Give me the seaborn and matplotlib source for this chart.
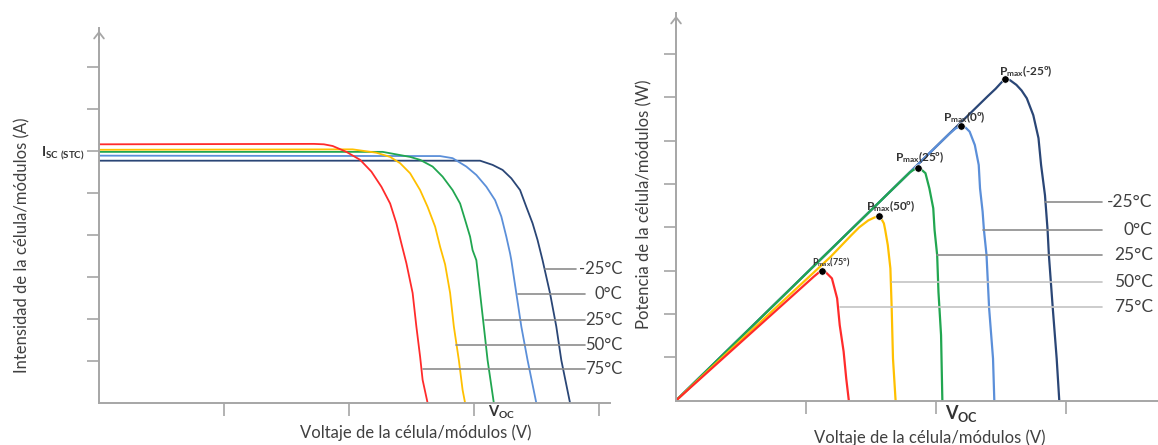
import pandas as pd
import seaborn as sns
import matplotlib.pyplot as plt

# temperaturas y colores
temps = ['-25°C', '0°C', '25°C', '50°C', '75°C']
colors = ['#2a4676', '#5b8fd9', '#21a650', '#ffc000', '#ff2b2b']

# curvas I-V
iv_v_m25 = [0, 3.05, 3.15, 3.23, 3.30, 3.37, 3.42, 3.47, 3.51, 3.55, 3.61, 3.66, 3.70, 3.77]
iv_i_m25 = [5.77, 5.77, 5.67, 5.55, 5.35, 5.07, 4.67, 4.28, 3.88, 3.40, 2.61, 1.82, 1.02, 0.0]
iv_v_0 = [0, 2.73, 2.83, 2.94, 3.02, 3.10, 3.17, 3.22, 3.26, 3.29, 3.30, 3.34, 3.38, 3.43, 3.50]
iv_i_0 = [5.89, 5.88, 5.83, 5.63, 5.43, 5.15, 4.83, 4.44, 3.96, 3.56, 3.40, 2.61, 1.82, 1.02, 0.0]
iv_v_25 = [0, 2.27, 2.49, 2.57, 2.67, 2.75, 2.83, 2.89, 2.93, 2.97, 2.99, 3.02, 3.05, 3.08, 3.11, 3.16]
iv_i_25 = [5.98, 5.98, 5.86, 5.79, 5.63, 5.39, 5.07, 4.75, 4.36, 3.96, 3.64, 3.40, 2.61, 1.82, 1.02, 0.0]
iv_v_50 = [0, 2.03, 2.22, 2.33, 2.41, 2.49, 2.57, 2.63, 2.69, 2.73, 2.77, 2.81, 2.84, 2.88, 2.91, 2.93]
iv_i_50 = [6.03, 6.04, 5.96, 5.86, 5.71, 5.47, 5.07, 4.67, 4.20, 3.72, 3.30, 2.62, 1.82, 1.02, 0.31, 0.0]
iv_v_75 = [0, 1.72, 1.80, 1.87, 1.98, 2.09, 2.18, 2.26, 2.33, 2.38, 2.42, 2.46, 2.51, 2.54, 2.57, 2.59, 2.63]
iv_i_75 = [6.16, 6.17, 6.16, 6.12, 5.98, 5.79, 5.51, 5.15, 4.75, 4.28, 3.80, 3.33, 2.62, 1.82, 1.10, 0.55, 0.0]

# curvas P-V
pv_v_m25 = [0, 2.40, 2.46, 2.50, 2.53, 2.57, 2.62, 2.66, 2.70, 2.75, 2.79, 2.81, 2.84, 2.86, 2.87, 2.90, 2.93, 2.95]
pv_p_m25 = [0, 7.03, 7.20, 7.33, 7.42, 7.40, 7.29, 7.16, 6.98, 6.59, 6.06, 5.44, 4.74, 3.94, 3.36, 2.13, 0.97, 0.0]
pv_v_0 = [0, 2.10, 2.15, 2.19, 2.23, 2.26, 2.30, 2.33, 2.34, 2.36, 2.37, 2.39, 2.41, 2.44, 2.45]
pv_p_0 = [0, 6.15, 6.28, 6.34, 6.30, 6.21, 5.90, 5.44, 4.90, 4.36, 3.94, 3.36, 2.13, 0.97, 0.0]
pv_v_25 = [0, 1.80, 1.83, 1.86, 1.89, 1.92, 1.95, 1.98, 1.99, 2.01, 2.02, 2.04, 2.05]
pv_p_25 = [0, 5.27, 5.33, 5.36, 5.33, 5.25, 4.90, 4.44, 3.94, 3.36, 2.51, 1.51, 0.0]
pv_v_50 = [0, 1.19, 1.35, 1.41, 1.48, 1.53, 1.56, 1.58, 1.60, 1.61, 1.63, 1.65, 1.66, 1.67, 1.69]
pv_p_50 = [0, 3.32, 3.82, 4.00, 4.16, 4.23, 4.25, 4.20, 4.09, 3.94, 3.59, 3.05, 2.13, 0.97, 0.0]
pv_v_75 = [0, 1.06, 1.10, 1.12, 1.15, 1.20, 1.24, 1.26, 1.29, 1.31, 1.33]
pv_p_75 = [0, 2.86, 2.96, 3.00, 2.97, 2.82, 2.36, 1.74, 1.13, 0.51, 0.0]

# puntos de potencia máxima
pmax_v = [2.53, 2.19, 1.86, 1.56, 1.12]
pmax_p = [7.42, 6.34, 5.36, 4.25, 3.00]
pmax_txt = ['-25º', '0º', '25º', '50º', '75º']

# líneas de etiqueta
lab_iv_y = [3.18, 2.60, 1.97, 1.38, 0.81]
lab_iv_x0 = [3.57, 3.35, 3.09, 2.86, 2.59]
lab_iv_x1 = [3.82, 3.89, 3.89, 3.89, 3.89]
lab_pv_y = [4.59, 3.94, 3.36, 2.74, 2.15]
lab_pv_x0 = [2.84, 2.36, 2.01, 1.66, 1.26]

iv = pd.concat([
    pd.DataFrame({'V': v, 'I': i, 'T': t})
    for v, i, t in zip([iv_v_m25, iv_v_0, iv_v_25, iv_v_50, iv_v_75],
                       [iv_i_m25, iv_i_0, iv_i_25, iv_i_50, iv_i_75], temps)
], ignore_index=True)
pv = pd.concat([
    pd.DataFrame({'V': v, 'P': p, 'T': t})
    for v, p, t in zip([pv_v_m25, pv_v_0, pv_v_25, pv_v_50, pv_v_75],
                       [pv_p_m25, pv_p_0, pv_p_25, pv_p_50, pv_p_75], temps)
], ignore_index=True)

sns.set_style("white")
plt.rcParams['font.family'] = ['Lato', 'DejaVu Sans']
plt.rcParams['mathtext.fontset'] = 'custom'
plt.rcParams['mathtext.rm'] = 'Lato'
plt.rcParams['mathtext.bf'] = 'Lato:bold'

palette = dict(zip(temps, colors))
axis_col = '#a6a6a6'
txt_col = '#404040'

fig = plt.figure(figsize=(11.58, 4.45), dpi=100)
ax1 = fig.add_axes([0.0855, 0.0944, 0.4413, 0.8427])
ax2 = fig.add_axes([0.5838, 0.1, 0.4162, 0.8708])

sns.lineplot(data=iv, x='V', y='I', hue='T', hue_order=temps, palette=palette,
             sort=False, estimator=None, linewidth=1.3, legend=False, ax=ax1)
sns.lineplot(data=pv, x='V', y='P', hue='T', hue_order=temps, palette=palette,
             sort=False, estimator=None, linewidth=1.6, legend=False, ax=ax2)
sns.scatterplot(x=pmax_v, y=pmax_p, color='black', s=28, zorder=5, ax=ax2)

ax1.set_xlim(0, 4.09)
ax1.set_ylim(0, 8.93)
ax2.set_xlim(0, 3.71)
ax2.set_ylim(0, 8.95)

for ax in (ax1, ax2):
    for s in ('top', 'right'):
        ax.spines[s].set_visible(False)
    for s in ('left', 'bottom'):
        ax.spines[s].set_color(axis_col)
        ax.spines[s].set_linewidth(1.4)
    ax.tick_params(direction='out', length=9, width=1.2, color=axis_col,
                   left=True, bottom=True, labelbottom=False)
    ax.set_yticks(range(1, 9))
    ax.set_xlabel('')
    ax.set_ylabel('')
    ymax = ax.get_ylim()[1]
    ax.annotate('', xy=(0, ymax), xytext=(0, ymax - 0.4),
                arrowprops=dict(arrowstyle='->,head_width=0.35,head_length=0.45',
                                color=axis_col, lw=1.3),
                annotation_clip=False)

ax1.set_xticks([1, 2, 3, 4])
ax2.set_xticks([1, 2, 3])
ax1.set_yticklabels(['', '', '', '', '', r'$\mathbf{I_{SC\ (STC)}}$', '', ''],
                    fontsize=10, color='#333333')
ax1.tick_params(axis='y', pad=1)
ax2.set_yticklabels([])

# etiquetas de ejes
fig.text(416 / 1158, 1 - 433 / 445, 'Voltaje de la célula/módulos (V)', ha='center', va='center',
         fontsize=12, color=txt_col)
fig.text(22 / 1158, 1 - 245 / 445, 'Intensidad de la célula/módulos (A)', ha='center', va='center',
         rotation=90, fontsize=12, color=txt_col)
fig.text(930 / 1158, 1 - 438 / 445, 'Voltaje de la célula/módulos (V)', ha='center', va='center',
         fontsize=12, color=txt_col)
fig.text(644 / 1158, 1 - 204 / 445, 'Potencia de la célula/módulos (W)', ha='center', va='center',
         rotation=90, fontsize=12, color=txt_col)

ax1.text(3.11, -0.22, r'$\mathbf{V_{OC}}$', fontsize=10.5, ha='left', va='center', color='#333333')
ax2.text(2.07, -0.31, r'$\mathbf{V_{OC}}$', fontsize=13, ha='left', va='center', color='#333333')

# líneas y textos de temperatura
for t, y, x0, x1 in zip(temps, lab_iv_y, lab_iv_x0, lab_iv_x1):
    ax1.plot([x0, x1], [y, y], color='#8c8c8c', lw=1.2, clip_on=False)
    ax1.text(4.19, y, t, ha='right', va='center', fontsize=12, color=txt_col, clip_on=False)
for k, (t, y, x0) in enumerate(zip(temps, lab_pv_y, lab_pv_x0)):
    ax2.plot([x0, 3.28], [y, y], color='#8c8c8c' if k < 3 else '#c4c4c4', lw=1.2)
    ax2.text(3.67, y, t, ha='right', va='center', fontsize=12.5, color=txt_col)

# etiquetas Pmax
offs = [(-6, 8), (-18, 9), (-23, 11), (-13, 10), (-10, 8)]
for k, (x, y, t) in enumerate(zip(pmax_v, pmax_p, pmax_txt)):
    ax2.annotate(r'$\mathbf{P_{max}}$' + '(' + t + ')', xy=(x, y),
                 xytext=(offs[k][0] * 0.72, offs[k][1] * 0.72), textcoords='offset points',
                 ha='left', va='center', fontsize=8.5 if k < 4 else 6.5,
                 fontweight='bold', color='#333333')

fig.savefig('out.png', dpi=100)
